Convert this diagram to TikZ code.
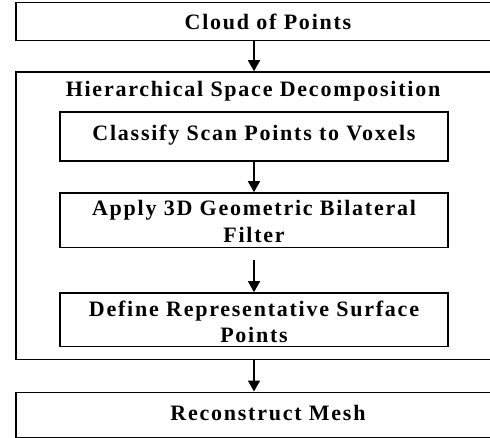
\documentclass[tikz,border=0pt]{standalone}
\usepackage{fontspec}
\newfontfamily\labfont[LetterSpace=8]{Liberation Serif}
\usetikzlibrary{arrows.meta}
\begin{document}
\begin{tikzpicture}[x=1pt,y=-1pt,
  boxst/.style={draw=black, line width=1.6pt, inner sep=0pt, anchor=center},
  lab/.style={font=\labfont\bfseries\fontsize{22}{26.5}\selectfont, align=center, inner sep=0pt},
  arr/.style={line width=1.6pt, -{Triangle[width=12pt,length=11pt]}}]
\useasboundingbox (0,0) rectangle (490,438);
\node[boxst, minimum width=504pt, minimum height=38pt] (top) at (268,21.7) {};
\node[lab] (toptxt) at (268,21.5) {Cloud of Points};
\node[boxst, minimum width=476pt, minimum height=287.3pt] (big) at (254,215.65) {};
\node[lab] (title) at (253,91) {Hierarchical Space Decomposition};
\node[boxst, minimum width=388pt, minimum height=49pt] (b1) at (254,136.5) {};
\node[lab] (b1txt) at (254,135.5) {Classify Scan Points to Voxels};
\node[boxst, minimum width=388pt, minimum height=54.5pt] (b2) at (254,220.25) {};
\node[lab] (b2txt) at (254,221.5) {Apply 3D Geometric Bilateral\\Filter};
\node[boxst, minimum width=388pt, minimum height=53.5pt] (b3) at (254,319.75) {};
\node[lab] (b3txt) at (254,322) {Define Representative Surface\\Points};
\node[boxst, minimum width=504pt, minimum height=45pt] (bot) at (268,414.8) {};
\node[lab] (bottxt) at (268,413.5) {Reconstruct Mesh};
\draw[arr] (top.south -| b1.center) -- (big.north -| b1.center);
\draw[arr] (b1.south) -- (b2.north);
\draw[arr, shorten <=12pt] (b2.south) -- (b3.north);
\draw[arr] (big.south -| b1.center) -- (bot.north -| b1.center);
\end{tikzpicture}
\end{document}
